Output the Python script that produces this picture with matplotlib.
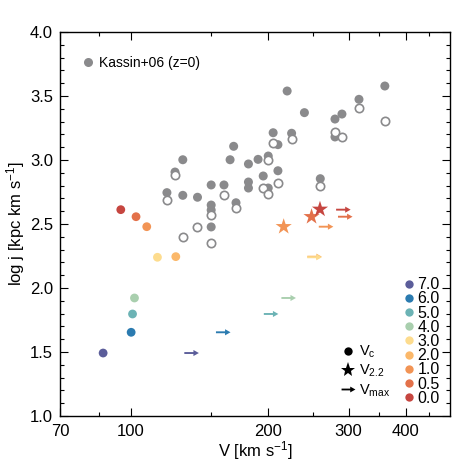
import matplotlib
matplotlib.use("Agg")
import matplotlib.pyplot as plt
from matplotlib.path import Path
from matplotlib.lines import Line2D
from matplotlib.ticker import FixedLocator, NullFormatter, FormatStrFormatter

plt.rcParams['font.family'] = ['Liberation Sans', 'DejaVu Sans']
plt.rcParams['mathtext.fontset'] = 'custom'
plt.rcParams['mathtext.rm'] = 'Liberation Sans'
plt.rcParams['mathtext.it'] = 'Liberation Sans'

# ---- Kassin+06 (z=0) comparison sample ----
kassin_filled_v = [220, 360, 316, 240, 290, 280, 205, 225, 210, 280, 190, 200, 210, 195,
                   200, 260, 181, 168, 165, 130, 181, 181, 150, 160, 120, 130, 140, 150,
                   150, 170, 150, 125]
kassin_filled_j = [3.539, 3.578, 3.474, 3.370, 3.359, 3.320, 3.213, 3.209, 3.120, 3.180,
                   3.005, 3.031, 2.916, 2.875, 2.781, 2.854, 2.969, 3.107, 3.002, 3.002,
                   2.828, 2.781, 2.805, 2.805, 2.745, 2.724, 2.709, 2.648, 2.609, 2.666,
                   2.477, 2.906]
kassin_open_v = [205, 225, 316, 360, 280, 290, 200, 195, 200, 210, 260, 125, 120, 160,
                 150, 170, 140, 130, 150]
kassin_open_j = [3.135, 3.164, 3.404, 3.307, 3.221, 3.182, 3.000, 2.779, 2.737, 2.818,
                 2.797, 2.883, 2.688, 2.727, 2.570, 2.625, 2.474, 2.396, 2.352]

# ---- model galaxy at different redshifts ----
z_labels = ['7.0', '6.0', '5.0', '4.0', '3.0', '2.0', '1.0', '0.5', '0.0']
z_colors = ['#5b5d9a', '#2b7bb0', '#6cb3b5', '#a9cfae', '#fddc8e', '#fbb86a',
            '#f29455', '#e3714a', '#c64640']
v_c = [87.0, 100.2, 100.9, 101.9, 114.4, 125.5, 108.4, 102.7, 95.1]
log_j = [1.492, 1.654, 1.797, 1.922, 2.240, 2.245, 2.479, 2.557, 2.612]
v_max = [135.9, 159.4, 202.9, 221.7, 252.6, 252.6, 267.7, 294.9, 292.1]
v22_labels = ['1.0', '0.5', '0.0']
v_22 = [216.2, 248.8, 259.6]
v22_j = [2.479, 2.557, 2.615]

x_major = [70, 100, 200, 300, 400]
x_minor = [85, 150, 250, 350, 450]

gray = '#8a8a8c'

# right-pointing arrow marker
arrow_verts = [(-1.0, -0.13), (0.25, -0.13), (0.25, -0.42), (1.0, 0.0), (0.25, 0.42),
               (0.25, 0.13), (-1.0, 0.13), (-1.0, -0.13)]
arrow_codes = [Path.MOVETO] + [Path.LINETO] * 6 + [Path.CLOSEPOLY]
arrow = Path(arrow_verts, arrow_codes)

fig = plt.figure(figsize=(4.63, 4.63), dpi=100)
ax = fig.add_axes([60 / 463, 47 / 463, 390 / 463, 384 / 463])

ax.scatter(kassin_filled_v, kassin_filled_j, s=42, color=gray, edgecolors='none', zorder=2)
ax.scatter(kassin_open_v, kassin_open_j, s=36, facecolors='white', edgecolors=gray,
           linewidths=1.2, zorder=3)

for lab, col, vc, jj, vm in zip(z_labels, z_colors, v_c, log_j, v_max):
    ax.scatter([vc], [jj], s=40, color=col, edgecolors='none', zorder=4)
for lab, col, vc, jj, vm in zip(z_labels[::-1], z_colors[::-1], v_c[::-1], log_j[::-1], v_max[::-1]):
    ax.scatter([vm], [jj], s=110, marker=arrow, color=col, edgecolors='none', zorder=4)
for lab, v, jj in zip(v22_labels, v_22, v22_j):
    col = z_colors[z_labels.index(lab)]
    ax.scatter([v], [jj], s=150, marker='*', color=col, edgecolors='none', zorder=5)

ax.set_xscale('log')
ax.set_xlim(70, 500)
ax.set_ylim(1.0, 4.0)
ax.xaxis.set_major_locator(FixedLocator(x_major))
ax.xaxis.set_major_formatter(FormatStrFormatter('%d'))
ax.xaxis.set_minor_locator(FixedLocator(x_minor))
ax.xaxis.set_minor_formatter(NullFormatter())
ax.yaxis.set_major_locator(FixedLocator([1.0, 1.5, 2.0, 2.5, 3.0, 3.5, 4.0]))
ax.yaxis.set_minor_locator(FixedLocator([1.0 + 0.1 * k for k in range(31)]))
ax.yaxis.set_major_formatter(FormatStrFormatter('%.1f'))

ax.tick_params(which='both', direction='in', top=True, right=True, width=0.8,
               labelsize=12)
ax.tick_params(which='major', length=6)
ax.tick_params(which='minor', length=3)
ax.tick_params(axis='x', which='both', pad=6)
ax.tick_params(axis='y', which='both', pad=5)
for sp in ax.spines.values():
    sp.set_linewidth(1.0)

ax.set_xlabel(r'V [km s$^{\mathregular{-1}}$]', fontsize=12, labelpad=0)
ax.set_ylabel(r'log j [kpc km s$^{\mathregular{-1}}$]', fontsize=12, labelpad=2)

# legend: Kassin
h_k = [Line2D([], [], marker='o', ls='none', color=gray, markersize=6.5, markeredgewidth=0)]
leg1 = ax.legend(h_k, ['Kassin+06 (z=0)'], loc='upper left', frameon=False,
                 fontsize=10, handletextpad=0.2, borderaxespad=0.0,
                 bbox_to_anchor=(0.035, 0.952), handlelength=1.2)
ax.add_artist(leg1)

# legend: velocity definitions
h_v = [Line2D([], [], marker='o', ls='none', color='black', markersize=6, markeredgewidth=0),
       Line2D([], [], marker='*', ls='none', color='black', markersize=11, markeredgewidth=0),
       Line2D([], [], marker=arrow, ls='none', color='black', markersize=10, markeredgewidth=0)]
leg2 = ax.legend(h_v, [r'V$_{\mathregular{c}}$', r'V$_{\mathregular{2.2}}$', r'V$_{\mathregular{max}}$'],
                 loc='lower left', frameon=False, fontsize=10.5, handletextpad=0.2,
                 labelspacing=0.2, handlelength=1.2, borderaxespad=0.0,
                 bbox_to_anchor=(0.70, 0.03))
ax.add_artist(leg2)

# legend: redshift
h_z = [Line2D([], [], marker='o', ls='none', color=c, markersize=6, markeredgewidth=0)
       for c in z_colors]
leg3 = ax.legend(h_z, z_labels, loc='lower left', frameon=False, fontsize=11.5,
                 handletextpad=0.05, labelspacing=-0.05, handlelength=1.0,
                 borderaxespad=0.0, bbox_to_anchor=(0.857, 0.01))

fig.savefig('out.png', dpi=100)
